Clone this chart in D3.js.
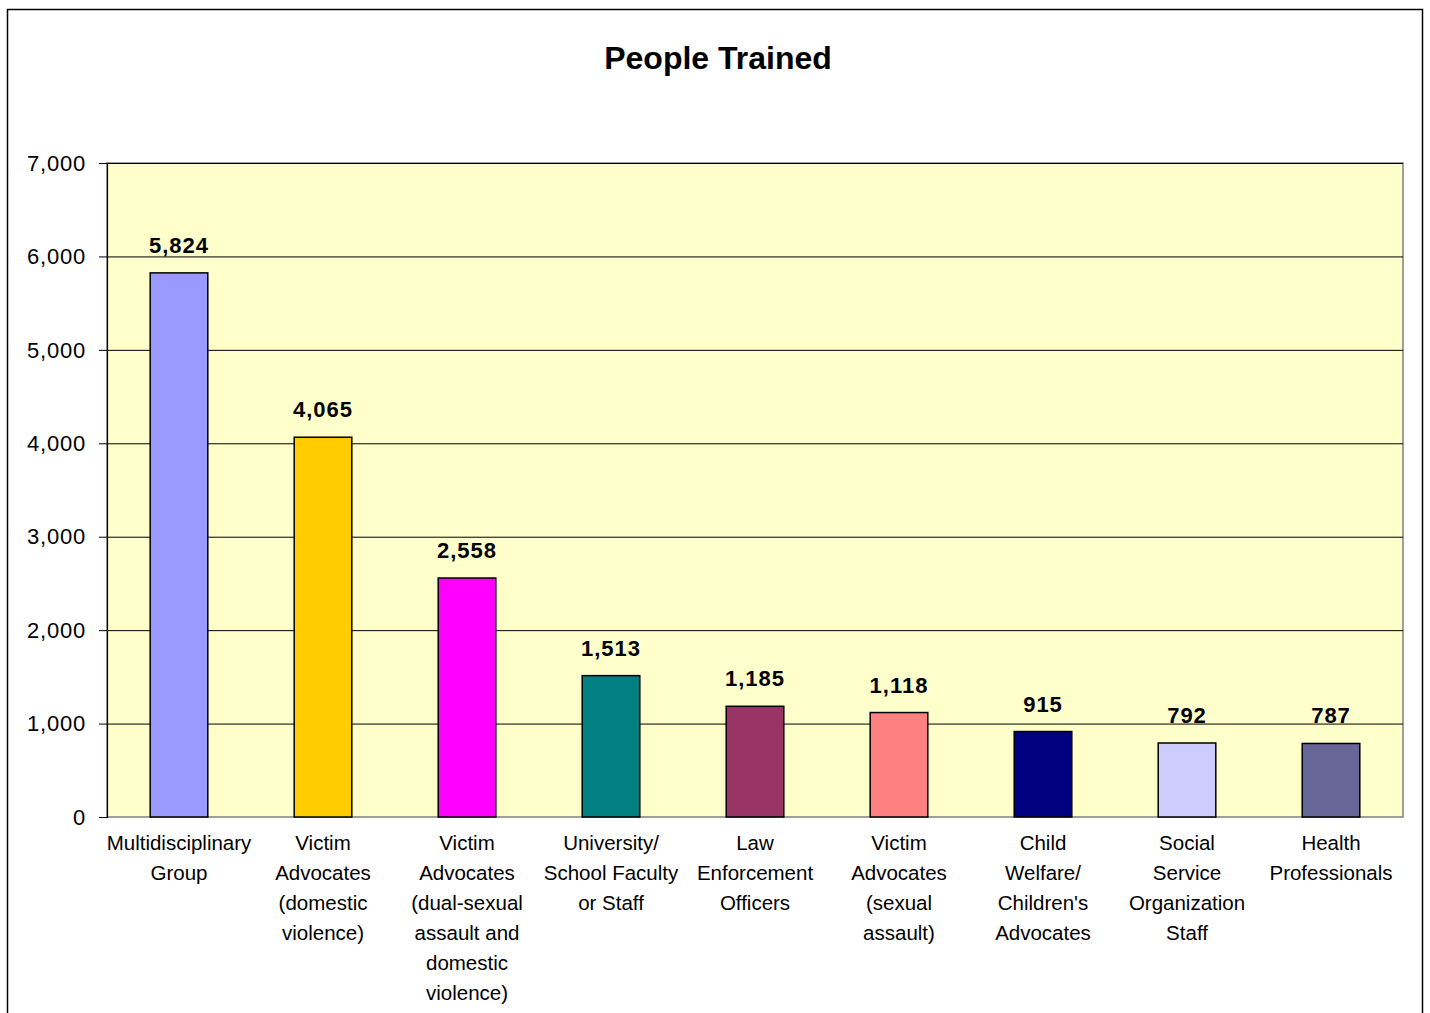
<html>
<head>
  <meta charset="utf-8">
  <title>People Trained</title>
  <script src="https://d3js.org/d3.v7.min.js"></script>
  <style>
    body { margin: 0; background: #fff; }
    svg text { font-family: "Liberation Sans", Arial, sans-serif; fill: #000; }
    .gridlines line { stroke: #000; stroke-width: 1; }
    .gridlines .domain { stroke: none; }
  </style>
</head>
<body>
  <svg id="chart" width="1430" height="1013"></svg>
  <script>
    // data
    const categories = [
      ["Multidisciplinary", "Group"],
      ["Victim", "Advocates", "(domestic", "violence)"],
      ["Victim", "Advocates", "(dual-sexual", "assault and", "domestic", "violence)"],
      ["University/", "School Faculty", "or Staff"],
      ["Law", "Enforcement", "Officers"],
      ["Victim", "Advocates", "(sexual", "assault)"],
      ["Child", "Welfare/", "Children's", "Advocates"],
      ["Social", "Service", "Organization", "Staff"],
      ["Health", "Professionals"]
    ];
    const values = [5824, 4065, 2558, 1513, 1185, 1118, 915, 792, 787];
    const barColors = ["#9999FF", "#FFCC00", "#FF00FF", "#008080", "#993366",
                       "#FF8080", "#000080", "#CCCCFF", "#666699"];
    const yTicks = [0, 1000, 2000, 3000, 4000, 5000, 6000, 7000];

    const svg = d3.select("svg#chart");
    const margins = { top: 163, right: 27, bottom: 196, left: 107 };
    const width = 1430 - margins.left - margins.right;
    const height = 1013 - margins.top - margins.bottom;

    // outer chart frame
    svg.append("rect")
      .attr("x", 7.5).attr("y", 9.5)
      .attr("width", 1415).attr("height", 1010)
      .attr("fill", "#fff")
      .attr("stroke", "#000")
      .attr("stroke-width", 1.5);

    svg.append("text")
      .attr("x", 718).attr("y", 69)
      .attr("text-anchor", "middle")
      .style("font-size", "32px")
      .style("font-weight", "bold")
      .text("People Trained");

    const idx = d3.range(values.length);
    const xScale = d3.scaleBand().domain(idx).range([0, width]).paddingInner(0.6).paddingOuter(0.3);
    const yScale = d3.scaleLinear().domain([0, 7000]).range([height, 0]);

    const plot = svg.append("g").attr("transform", `translate(${margins.left},${margins.top})`);

    plot.append("rect")
      .attr("x", 0).attr("y", 0)
      .attr("width", width).attr("height", height)
      .attr("fill", "#FFFFCC")
      .attr("stroke", "#808080")
      .attr("stroke-width", 1.5);

    let grid = d3.axisLeft(yScale).tickValues(yTicks.slice(1)).tickSize(-width).tickFormat("");
    plot.append("g").attr("class", "gridlines").call(grid);

    // y axis
    let leftAxis = d3.axisLeft(yScale).tickValues(yTicks).tickSize(8).tickPadding(13)
      .tickFormat(d3.format(","));
    let ya = plot.append("g").call(leftAxis);
    ya.select(".domain").attr("stroke", "#000").attr("stroke-width", 1.2);
    ya.selectAll(".tick line").attr("stroke", "#000");
    ya.selectAll("text")
      .attr("font-family", null).attr("font-size", null)
      .style("font-size", "22px").style("letter-spacing", "0.8px").attr("dy", "0.33em");

    // bars
    plot.selectAll("rect.bar").data(values)
      .join("rect")
      .attr("class", "bar")
      .attr("x", (d, i) => xScale(i))
      .attr("y", d => yScale(d))
      .attr("width", xScale.bandwidth())
      .attr("height", d => height - yScale(d))
      .attr("fill", (d, i) => barColors[i])
      .attr("stroke", "#000")
      .attr("stroke-width", 1.5);

    // value labels
    plot.selectAll("text.value").data(values)
      .join("text")
      .attr("class", "value")
      .attr("x", (d, i) => xScale(i) + xScale.bandwidth() / 2)
      .attr("y", d => yScale(d) - 20)
      .attr("text-anchor", "middle")
      .style("font-size", "22px")
      .style("font-weight", "bold")
      .style("letter-spacing", "1px")
      .text(d => d3.format(",")(d));

    // category labels
    plot.selectAll("text.cat").data(categories)
      .join("text")
      .attr("class", "cat")
      .attr("text-anchor", "middle")
      .style("font-size", "20.5px")
      .attr("transform", (d, i) => `translate(${xScale(i) + xScale.bandwidth() / 2},${height + 33})`)
      .selectAll("tspan").data(d => d)
      .join("tspan")
      .attr("x", 0)
      .attr("y", (d, j) => j * 30)
      .text(d => d);
  </script>
</body>
</html>
